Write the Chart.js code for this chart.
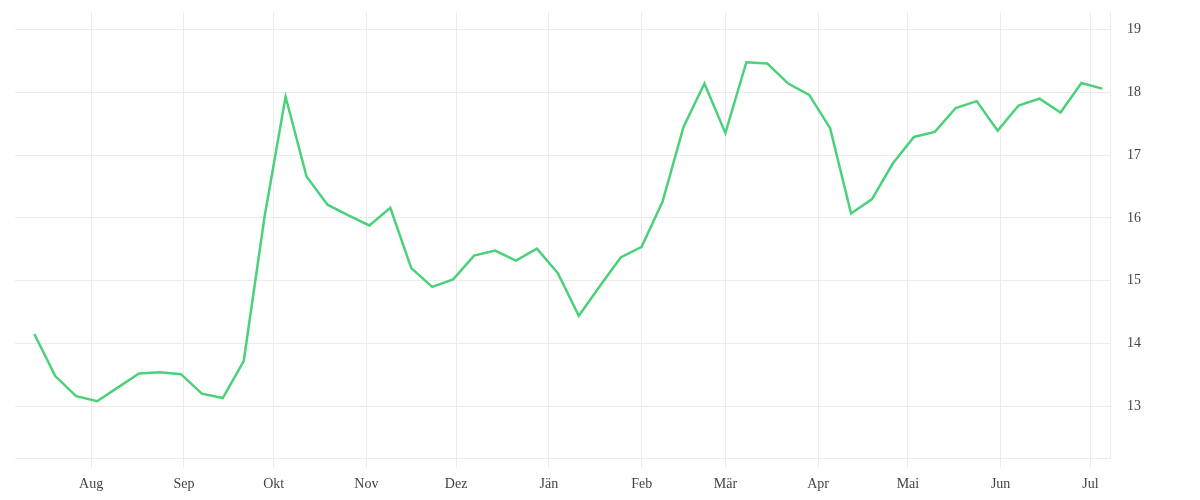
<!DOCTYPE html>
<html>
<head>
<meta charset="utf-8">
<script src="https://cdn.jsdelivr.net/npm/chart.js@4"></script>
<style>
    html, body { margin: 0; padding: 0; background: #fff; }
    #wrap { width: 1200px; height: 500px; position: relative; }
</style>
</head>
<body>
<div id="wrap"><canvas id="chart"></canvas></div>
<script>
// weekly observations
const weekDates = [
    '2022-07-13', '2022-07-20', '2022-07-27', '2022-08-03', '2022-08-10', '2022-08-17',
    '2022-08-24', '2022-08-31', '2022-09-07', '2022-09-14', '2022-09-21', '2022-09-28',
    '2022-10-05', '2022-10-12', '2022-10-19', '2022-10-26', '2022-11-02', '2022-11-09',
    '2022-11-16', '2022-11-23', '2022-11-30', '2022-12-07', '2022-12-14', '2022-12-21',
    '2022-12-28', '2023-01-04', '2023-01-11', '2023-01-18', '2023-01-25', '2023-02-01',
    '2023-02-08', '2023-02-15', '2023-02-22', '2023-03-01', '2023-03-08', '2023-03-15',
    '2023-03-22', '2023-03-29', '2023-04-05', '2023-04-12', '2023-04-19', '2023-04-26',
    '2023-05-03', '2023-05-10', '2023-05-17', '2023-05-24', '2023-05-31', '2023-06-07',
    '2023-06-14', '2023-06-21', '2023-06-28', '2023-07-05'
];

const weekValues = [
    14.15, 13.48, 13.16, 13.08, 13.30, 13.52, 13.54, 13.51, 13.20, 13.13,
    13.72, 16.03, 17.93, 16.66, 16.21, 16.04, 15.88, 16.16, 15.20, 14.90,
    15.02, 15.40, 15.48, 15.32, 15.51, 15.12, 14.44, 14.91, 15.37, 15.54,
    16.26, 17.45, 18.14, 17.35, 18.48, 18.46, 18.14, 17.96, 17.43, 16.07,
    16.30, 16.87, 17.29, 17.37, 17.75, 17.86, 17.39, 17.79, 17.90, 17.68,
    18.15, 18.06
];

const monthStarts = [
    '2022-08-01', '2022-09-01', '2022-10-01', '2022-11-01', '2022-12-01', '2023-01-01',
    '2023-02-01', '2023-03-01', '2023-04-01', '2023-05-01', '2023-06-01', '2023-07-01'
];
const monthLabels = ['Aug', 'Sep', 'Okt', 'Nov', 'Dez', 'Jän', 'Feb', 'Mär', 'Apr', 'Mai', 'Jun', 'Jul'];

const yTicks = [13, 14, 15, 16, 17, 18, 19];

// no date adapter available, so dates become day numbers on a linear axis
const ORIGIN = Date.parse(monthStarts[0]);
const dayOf = d => (Date.parse(d) - ORIGIN) / 86400000;

const GRID = '#ebebeb';
const TEXT = '#444';
const FONT = { family: '"Liberation Serif", "DejaVu Serif", serif', size: 14 };

const points = weekDates.map((d, i) => ({ x: dayOf(d), y: weekValues[i] }));
const monthDays = monthStarts.map(dayOf);

new Chart(document.getElementById('chart'), {
    type: 'line',
    data: {
        datasets: [{
            data: points,
            borderColor: '#4bd17a',
            borderWidth: 2.5,
            pointRadius: 0,
            tension: 0,
            fill: false,
        }]
    },
    options: {
        responsive: true,
        maintainAspectRatio: false,
        animation: false,
        layout: { padding: { left: 15, top: 12, right: 0, bottom: 0 } },
        plugins: {
            legend: { display: false },
            tooltip: { enabled: false }
        },
        scales: {
            x: {
                type: 'linear',
                min: dayOf(weekDates[0]) - 6.45,
                max: dayOf(weekDates[weekDates.length - 1]) + 2.55,
                afterBuildTicks: scale => {
                    scale.ticks = monthDays.map(v => ({ value: v }));
                },
                afterFit: scale => {
                    scale.height = 42;
                    scale.paddingLeft = 0;
                    scale.paddingRight = 0;
                },
                grid: { color: GRID, tickLength: 10, tickColor: GRID },
                border: { display: true, color: GRID },
                ticks: {
                    autoSkip: false,
                    maxRotation: 0,
                    padding: 8,
                    color: TEXT,
                    font: FONT,
                    callback: value => {
                        const i = monthDays.indexOf(value);
                        return i >= 0 ? monthLabels[i] : '';
                    }
                }
            },
            y: {
                position: 'right',
                min: 12.175,
                max: 19.28,
                afterBuildTicks: scale => {
                    scale.ticks = yTicks.map(v => ({ value: v }));
                },
                afterFit: scale => {
                    scale.width = 90;
                    scale.paddingTop = 0;
                    scale.paddingBottom = 0;
                },
                grid: { color: GRID, drawTicks: false },
                border: { display: true, color: GRID },
                ticks: {
                    padding: 17,
                    color: TEXT,
                    font: FONT,
                    callback: v => v
                }
            }
        }
    }
});
</script>
</body>
</html>
